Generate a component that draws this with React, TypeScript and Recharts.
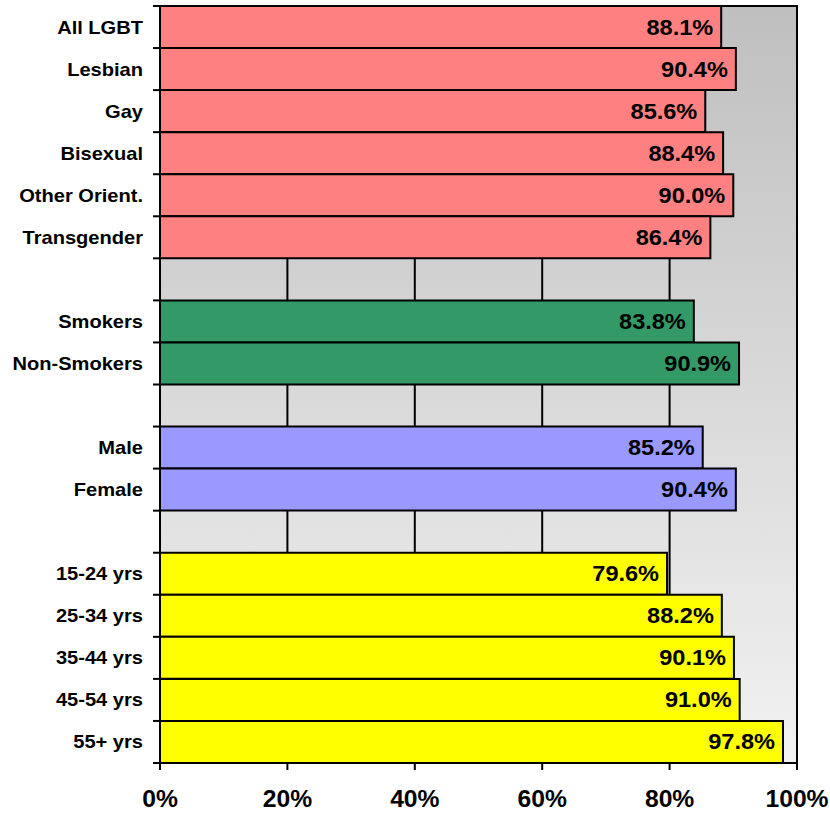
import React from 'react';
import {
  BarChart,
  Bar,
  XAxis,
  YAxis,
  CartesianGrid,
  Cell,
  LabelList,
  ReferenceArea,
} from 'recharts';

// rows of the chart, blanks are the spacer rows between groups
const categories = [
  'All LGBT', 'Lesbian', 'Gay', 'Bisexual', 'Other Orient.', 'Transgender',
  '',
  'Smokers', 'Non-Smokers',
  '',
  'Male', 'Female',
  '',
  '15-24 yrs', '25-34 yrs', '35-44 yrs', '45-54 yrs', '55+ yrs',
];
const values = [
  88.1, 90.4, 85.6, 88.4, 90.0, 86.4,
  null,
  83.8, 90.9,
  null,
  85.2, 90.4,
  null,
  79.6, 88.2, 90.1, 91.0, 97.8,
];
const groups = [
  'lgbt', 'lgbt', 'lgbt', 'lgbt', 'lgbt', 'lgbt',
  'gap',
  'smoke', 'smoke',
  'gap',
  'sex', 'sex',
  'gap',
  'age', 'age', 'age', 'age', 'age',
];
const xTicks = [0, 20, 40, 60, 80, 100];

const groupColors: Record<string, string> = {
  lgbt: '#ff8080',
  smoke: '#339966',
  sex: '#9999ff',
  age: '#ffff00',
  gap: 'none',
};

const WIDTH = 830;
const HEIGHT = 813;
const MARGIN = { top: 6, right: 33, bottom: 0, left: 0 };
const Y_WIDTH = 160;
const X_HEIGHT = 50;
const FONT = "Arial, 'Liberation Sans', sans-serif";

const data = categories.map((name, i) => ({
  id: `row${i}`,
  name,
  value: values[i],
  group: groups[i],
}));

const band = (HEIGHT - MARGIN.top - MARGIN.bottom - X_HEIGHT) / data.length;

// the original text looks a bit stretched sideways, so scale x a little
function WideText({ x, y, size, stretch, anchor, children }: any) {
  return (
    <text
      transform={`translate(${x} ${y}) scale(${stretch} 1)`}
      x={0}
      y={0}
      textAnchor={anchor}
      fontFamily={FONT}
      fontWeight="bold"
      fontSize={size}
      fill="#000"
    >
      {children}
    </text>
  );
}

function CategoryTick(props: any) {
  const { y, payload, index } = props;
  const row = data[index] || data.find(d => d.id === payload.value);
  const axisX = MARGIN.left + Y_WIDTH;
  const isLast = index === data.length - 1;
  return (
    <g>
      <line x1={axisX - 7} x2={axisX} y1={y - band / 2} y2={y - band / 2} stroke="#000" strokeWidth={2} />
      {isLast && (
        <line x1={axisX - 7} x2={axisX} y1={y + band / 2} y2={y + band / 2} stroke="#000" strokeWidth={2} />
      )}
      <WideText x={axisX - 17} y={y + 6.5} size={18.6} stretch={1.08} anchor="end">
        {row ? row.name : ''}
      </WideText>
    </g>
  );
}

function PercentTick(props: any) {
  const { x, y, payload } = props;
  return (
    <WideText x={x} y={y + 37} size={23.5} stretch={1.05} anchor="middle">
      {`${payload.value}%`}
    </WideText>
  );
}

function ValueLabel(props: any) {
  const { x, y, width, height, value } = props;
  if (value == null) return null;
  return (
    <WideText x={x + width - 8} y={y + height / 2 + 7.5} size={21.4} stretch={1.1} anchor="end">
      {`${Number(value).toFixed(1)}%`}
    </WideText>
  );
}

export default function App() {
  return (
    <div style={{ position: 'absolute', left: 0, top: 0 }}>
      <svg width={0} height={0} style={{ position: 'absolute' }}>
        <defs>
          <linearGradient id="plotBg" x1="0" y1="0" x2="0" y2="1">
            <stop offset="0%" stopColor="#bfbfbf" />
            <stop offset="100%" stopColor="#f2f2f2" />
          </linearGradient>
        </defs>
      </svg>
      <BarChart
        width={WIDTH}
        height={HEIGHT}
        data={data}
        layout="vertical"
        margin={MARGIN}
        barCategoryGap={0}
        barGap={0}
      >
        <CartesianGrid
          horizontal={false}
          vertical={true}
          stroke="#000"
          strokeWidth={2}
          strokeOpacity={1}
          fill="url(#plotBg)"
          fillOpacity={1}
        />
        <XAxis
          type="number"
          domain={[0, 100]}
          ticks={xTicks}
          height={X_HEIGHT}
          axisLine={{ stroke: '#000', strokeWidth: 2 }}
          tickLine={{ stroke: '#000', strokeWidth: 2 }}
          tickSize={7}
          tickMargin={0}
          tick={<PercentTick />}
          interval={0}
        />
        <YAxis
          type="category"
          dataKey="id"
          width={Y_WIDTH}
          axisLine={{ stroke: '#000', strokeWidth: 2 }}
          tickLine={false}
          tick={<CategoryTick />}
          interval={0}
        />
        <ReferenceArea x1={0} x2={100} fill="none" stroke="#000" strokeWidth={2} />
        <Bar dataKey="value" isAnimationActive={false} stroke="#000" strokeWidth={2}>
          {data.map((d) => (
            <Cell key={d.id} fill={groupColors[d.group]} />
          ))}
          <LabelList dataKey="value" content={<ValueLabel />} />
        </Bar>
      </BarChart>
    </div>
  );
}
